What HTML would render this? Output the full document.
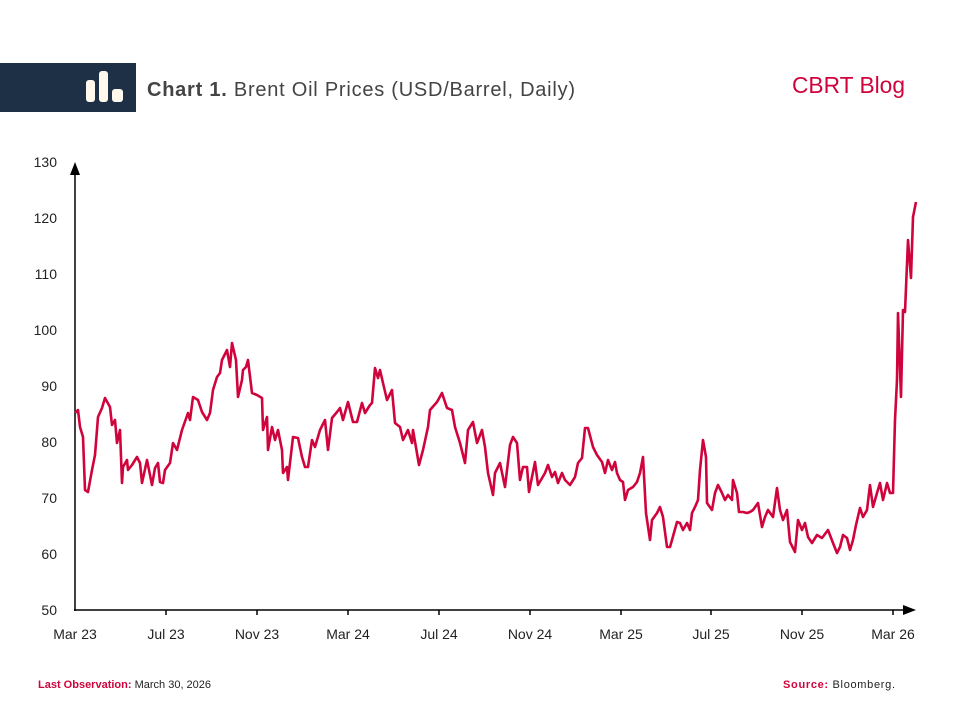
<!DOCTYPE html>
<html><head><meta charset="utf-8"><style>
body{margin:0;background:#fff;}
svg{display:block;font-family:"Liberation Sans",sans-serif;}
</style></head><body>
<svg width="960" height="720" viewBox="0 0 960 720" xmlns="http://www.w3.org/2000/svg">
<rect x="0" y="63" width="136" height="49" fill="#1e3046"/>
<rect x="86" y="80" width="9" height="22" rx="3" fill="#fff8ec"/>
<rect x="99" y="71" width="9" height="31" rx="3" fill="#fff8ec"/>
<rect x="112" y="89" width="11" height="13" rx="3" fill="#fff8ec"/>
<text x="147" y="96" font-size="20" fill="#444" textLength="428" lengthAdjust="spacing"><tspan font-weight="bold">Chart 1.</tspan> Brent Oil Prices (USD/Barrel, Daily)</text>
<text x="792" y="93" font-size="23" fill="#d0043c" textLength="113" lengthAdjust="spacingAndGlyphs">CBRT Blog</text>
<g font-size="14" fill="#222" text-anchor="end">
<text x="57" y="167">130</text><text x="57" y="223">120</text><text x="57" y="279">110</text>
<text x="57" y="335">100</text><text x="57" y="391">90</text><text x="57" y="447">80</text>
<text x="57" y="503">70</text><text x="57" y="559">60</text><text x="57" y="615">50</text>
</g>
<g font-size="14" fill="#222" text-anchor="middle">
<text x="75" y="639">Mar 23</text><text x="166" y="639">Jul 23</text><text x="257" y="639">Nov 23</text>
<text x="348" y="639">Mar 24</text><text x="439" y="639">Jul 24</text><text x="530" y="639">Nov 24</text>
<text x="621" y="639">Mar 25</text><text x="711" y="639">Jul 25</text><text x="802" y="639">Nov 25</text>
<text x="893" y="639">Mar 26</text>
</g>
<g stroke="#000" stroke-width="1.5">
<line x1="75" y1="172" x2="75" y2="611"/>
<line x1="74" y1="610" x2="904" y2="610"/>
<line x1="166" y1="610" x2="166" y2="615"/><line x1="257" y1="610" x2="257" y2="615"/>
<line x1="348" y1="610" x2="348" y2="615"/><line x1="439" y1="610" x2="439" y2="615"/>
<line x1="530" y1="610" x2="530" y2="615"/><line x1="621" y1="610" x2="621" y2="615"/>
<line x1="711" y1="610" x2="711" y2="615"/><line x1="802" y1="610" x2="802" y2="615"/>
<line x1="893" y1="610" x2="893" y2="615"/>
</g>
<polygon points="70,175 80,175 75,162" fill="#000"/>
<polygon points="903,605 903,615 916,610" fill="#000"/>
<polyline fill="none" stroke="#d0043c" stroke-width="2.6" stroke-linejoin="round" points="75,413 78,410 80,427 83,437 85,490 88,492 92,470 95,455 98,417 102,408 105,398 110,407 112,425 115,420 117,443 120,430 122,483 123,467 127,460 128,470 132,465 137,457 140,463 142,483 147,460 152,485 155,468 158,463 160,482 163,483 165,470 170,463 173,443 177,450 182,430 188,413 190,420 193,397 198,400 202,412 207,420 210,413 213,390 217,377 220,373 222,360 227,350 230,367 232,343 236,360 238,397 242,380 243,370 246,367 248,360 252,393 257,395 262,398 263,430 267,417 268,450 272,427 275,440 278,430 282,450 283,473 287,467 288,480 293,437 298,438 302,457 305,467 308,467 312,440 315,447 320,430 325,420 328,450 332,418 337,412 340,408 343,420 348,402 353,422 357,422 362,403 365,413 370,405 372,403 375,368 378,378 380,370 383,383 387,400 392,390 395,423 400,427 403,440 408,430 412,443 413,430 419,465 423,450 428,427 430,410 437,402 442,393 447,408 452,410 455,427 460,443 465,463 468,430 473,422 477,443 482,430 485,447 488,473 493,495 495,473 500,463 505,487 510,445 513,437 517,443 520,480 523,467 527,467 529,492 535,462 538,485 545,473 548,465 552,477 555,472 558,483 562,473 565,480 570,485 575,477 578,463 582,458 585,428 588,428 593,447 597,455 602,462 605,473 608,460 612,470 615,462 617,473 620,480 623,482 625,500 628,490 633,487 637,482 640,473 643,457 646,513 650,540 652,520 657,513 660,507 663,517 667,547 670,547 672,540 677,522 680,523 683,530 687,523 690,530 692,513 695,507 698,500 700,470 703,440 706,457 707,503 712,510 715,493 718,485 722,493 725,500 728,495 732,500 733,480 737,493 739,512 743,512 747,513 750,512 753,510 758,503 762,527 765,517 768,510 773,517 777,488 780,510 783,520 787,510 790,542 795,552 798,520 802,530 805,523 808,537 812,543 817,535 822,538 828,530 833,543 837,553 840,547 843,535 847,538 850,550 853,540 856,525 860,508 863,517 867,510 870,485 873,507 877,493 880,483 883,500 887,483 890,493 893,493 895,420 897,380 898,313 901,397 903,310 905,312 908,240 911,278 913,217 916,202"/>
<text x="38" y="688" font-size="11" fill="#222"><tspan fill="#d0043c" font-weight="bold">Last Observation:</tspan> March 30, 2026</text>
<text x="783" y="688" font-size="11" fill="#222" textLength="112" lengthAdjust="spacing"><tspan fill="#d0043c" font-weight="bold">Source:</tspan> Bloomberg.</text>
</svg>
</body></html>
